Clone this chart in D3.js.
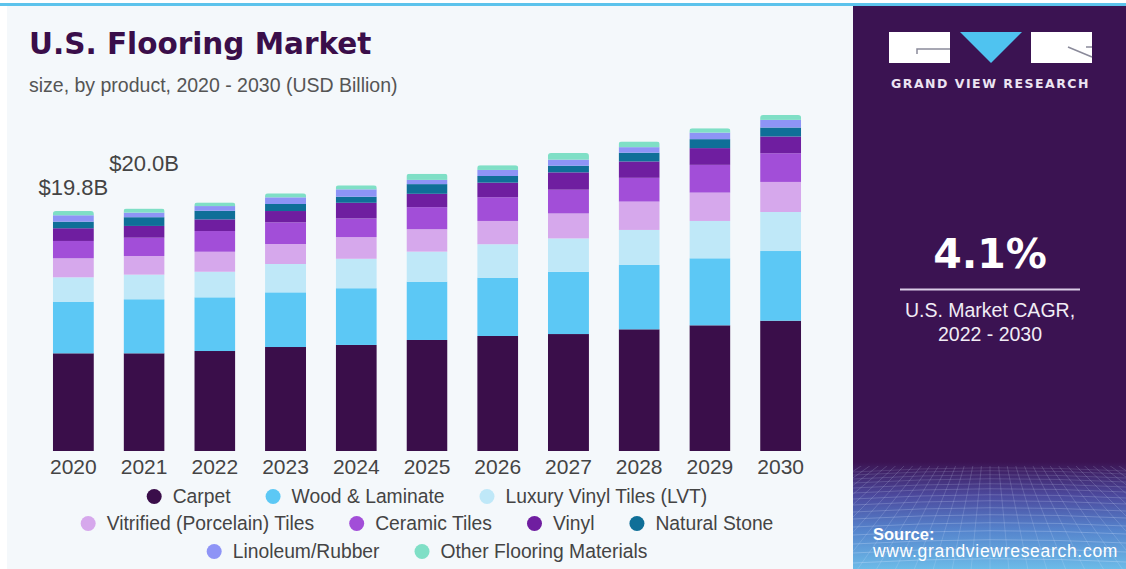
<!DOCTYPE html>
<html>
<head>
<meta charset="utf-8">
<script src="https://cdn.jsdelivr.net/npm/d3@7/dist/d3.min.js"></script>
<style>
  html, body { margin: 0; padding: 0; background: #ffffff; }
  svg { display: block; }
</style>
</head>
<body>
<svg id="chart" width="1126" height="569"></svg>
<script>
// U.S. flooring market size by product, USD billion
const years = ["2020","2021","2022","2023","2024","2025","2026","2027","2028","2029","2030"];
const products = ["Carpet","Wood & Laminate","Luxury Vinyl Tiles (LVT)","Vitrified (Porcelain) Tiles",
                  "Ceramic Tiles","Vinyl","Natural Stone","Linoleum/Rubber","Other Flooring Materials"];
const carpet       = [8.06, 8.06, 8.25, 8.58, 8.75, 9.16, 9.49, 9.65, 10.04, 10.37, 10.75];
const woodLaminate = [4.26, 4.46, 4.43, 4.51, 4.68, 4.81, 4.81, 5.14, 5.31, 5.53, 5.75];
const lvt          = [2.01, 2.03, 2.11, 2.34, 2.43, 2.48, 2.76, 2.75, 2.89, 3.08, 3.22];
const vitrified    = [1.57, 1.54, 1.65, 1.65, 1.79, 1.85, 1.92, 2.06, 2.34, 2.34, 2.48];
const ceramic      = [1.43, 1.51, 1.71, 1.79, 1.54, 1.82, 1.96, 1.96, 1.96, 2.29, 2.37];
const vinyl        = [1.05, 0.97, 0.96, 0.93, 1.29, 1.10, 1.20, 1.43, 1.35, 1.38, 1.38];
const naturalStone = [0.54, 0.72, 0.71, 0.58, 0.50, 0.80, 0.55, 0.55, 0.72, 0.74, 0.74];
const linoleum     = [0.53, 0.38, 0.39, 0.55, 0.61, 0.35, 0.50, 0.50, 0.46, 0.54, 0.63];
const other        = [0.35, 0.33, 0.30, 0.33, 0.33, 0.50, 0.39, 0.55, 0.47, 0.36, 0.41];
const seriesValues = [carpet, woodLaminate, lvt, vitrified, ceramic, vinyl, naturalStone, linoleum, other];
const colors = ["#3a0e4a","#5cc8f5","#bfe8f8","#d6a8ec","#a24ed8","#6f1ea0","#0f6f98","#8e94f6","#7fdfc6"];
// totals called out above the first two bars
const labelYears = ["2020","2021"];
const labelTexts = ["$19.8B","$20.0B"];

const rows = years.map((yr, i) => {
  const r = { year: yr };
  products.forEach((p, k) => { r[p] = seriesValues[k][i]; });
  return r;
});

const svg = d3.select("#chart");
const W = 1126, H = 569;

// ---- backgrounds ----
const defs = svg.append("defs");
const grad = defs.append("linearGradient").attr("id", "panelGrad")
  .attr("x1", 0).attr("y1", 0).attr("x2", 0).attr("y2", 1);
grad.append("stop").attr("offset", "0%").attr("stop-color", "#3b1352");
grad.append("stop").attr("offset", "81%").attr("stop-color", "#3b1352");
grad.append("stop").attr("offset", "87%").attr("stop-color", "#4c4a9e");
grad.append("stop").attr("offset", "93%").attr("stop-color", "#5583cc");
grad.append("stop").attr("offset", "100%").attr("stop-color", "#6cbbe8");

svg.append("rect").attr("x", 0).attr("y", 0).attr("width", W).attr("height", H).attr("fill", "#ffffff");
svg.append("rect").attr("x", 7).attr("y", 6).attr("width", 846).attr("height", H - 6).attr("fill", "#f4f8fb");
svg.append("rect").attr("x", 853).attr("y", 6).attr("width", W - 853).attr("height", H - 6).attr("fill", "url(#panelGrad)");
svg.append("rect").attr("x", 0).attr("y", 3).attr("width", W).attr("height", 3).attr("fill", "#5cc3ec");

// perspective mesh at the bottom of the side panel
defs.append("clipPath").attr("id", "gridClip")
  .append("rect").attr("x", 853).attr("y", 466).attr("width", W - 853).attr("height", H - 466);
const grid = svg.append("g").attr("clip-path", "url(#gridClip)")
  .attr("stroke", "#dce9ff").attr("stroke-width", 0.8).attr("fill", "none");
const hLines = [469, 472, 476, 480, 485, 490, 496, 502, 509, 516, 524, 532, 541, 550, 560];
hLines.forEach((yy, i) => {
  grid.append("path")
    .attr("d", `M853,${yy + 3} Q990,${yy - 5} 1126,${yy + 2}`)
    .attr("opacity", 0.16 + i * 0.015);
});
for (let k = -30; k <= 30; k++) {
  const vx = 990, vy = 380;
  const bx = 990 + k * 22;
  grid.append("line").attr("x1", vx).attr("y1", vy).attr("x2", bx).attr("y2", 600)
    .attr("opacity", 0.22);
}

// ---- title ----
svg.append("text").attr("x", 29).attr("y", 54)
  .attr("font-family", "DejaVu Sans").attr("font-weight", "bold").attr("font-size", 29.5)
  .attr("fill", "#3a0e4a").text("U.S. Flooring Market");
svg.append("text").attr("x", 29).attr("y", 92)
  .attr("font-family", "Liberation Sans, Arial").attr("font-size", 19.5)
  .attr("fill", "#555555").text("size, by product, 2020 - 2030 (USD Billion)");

// ---- bars ----
const x = d3.scaleBand().domain(years).range([38, 816]).paddingInner(0.42).paddingOuter(0.21);
const y = d3.scaleLinear().domain([0, 28]).range([451, 451 - 28 * 12.12]);

const stack = d3.stack().keys(products);
const stacked = stack(rows);

defs.append("clipPath").attr("id", "barsClip").selectAll("rect")
  .data(years).join("rect")
  .attr("x", d => x(d)).attr("width", x.bandwidth())
  .attr("y", (d, i) => y(d3.sum(seriesValues, s => s[i])))
  .attr("height", (d, i) => y(0) - y(d3.sum(seriesValues, s => s[i])) + 4)
  .attr("rx", 3);

const barsG = svg.append("g").attr("clip-path", "url(#barsClip)");
barsG.selectAll("g.layer").data(stacked).join("g")
  .attr("class", "layer")
  .attr("fill", (d, i) => colors[i])
  .selectAll("rect").data(d => d).join("rect")
  .attr("x", d => x(d.data.year))
  .attr("width", x.bandwidth())
  .attr("y", d => y(d[1]))
  .attr("height", d => y(d[0]) - y(d[1]));

// x axis labels
const xAxis = d3.axisBottom(x).tickSize(0).tickPadding(0);
const axG = svg.append("g").attr("transform", `translate(0,${y(0)})`).call(xAxis);
axG.select(".domain").remove();
axG.selectAll("text")
  .attr("dy", null).attr("y", 23)
  .attr("font-family", "Liberation Sans, Arial").attr("font-size", 21)
  .attr("fill", "#444444");

// total labels above first two bars (second one raised to avoid overlap)
const labelLift = [16, 38];
labelYears.forEach((yr, j) => {
  const i = years.indexOf(yr);
  const total = d3.sum(seriesValues, s => s[i]);
  svg.append("text")
    .attr("x", x(yr) + x.bandwidth() / 2)
    .attr("y", y(total) - labelLift[j])
    .attr("text-anchor", "middle")
    .attr("font-family", "Liberation Sans, Arial").attr("font-size", 22)
    .attr("fill", "#444444").text(labelTexts[j]);
});

// ---- legend ----
const legendRows = [[0, 1, 2], [3, 4, 5, 6], [7, 8]];
const legendBase = [503, 530, 558];
const legendCenter = 427;
const legendFont = 19.3;
const itemGap = 35;
legendRows.forEach((row, r) => {
  const g = svg.append("g");
  let cx = 0;
  row.forEach(k => {
    const it = g.append("g");
    it.append("circle").attr("cx", 7.5).attr("cy", -6.5).attr("r", 7.5).attr("fill", colors[k]);
    const t = it.append("text").attr("x", 26).attr("y", 0)
      .attr("font-family", "Liberation Sans, Arial").attr("font-size", legendFont)
      .attr("fill", "#444444").text(products[k]);
    const w = 26 + t.node().getComputedTextLength();
    it.attr("transform", `translate(${cx},0)`);
    cx += w + itemGap;
  });
  const total = cx - itemGap;
  g.attr("transform", `translate(${legendCenter - total / 2},${legendBase[r]})`);
});

// ---- side panel: logo ----
const logo = svg.append("g");
logo.append("rect").attr("x", 889).attr("y", 32).attr("width", 61).attr("height", 31).attr("fill", "#ffffff");
logo.append("path").attr("d", "M917,54 L917,49 L950,49").attr("stroke", "#8a8a9a").attr("stroke-width", 1.5).attr("fill", "none");
logo.append("path").attr("d", "M960,32 L1022,32 L991,63 Z").attr("fill", "#4fc3f0");
logo.append("rect").attr("x", 1031).attr("y", 32).attr("width", 61).attr("height", 31).attr("fill", "#ffffff");
logo.append("path").attr("d", "M1068,47 L1092,57 M1086,47 L1092,47").attr("stroke", "#8a8a9a").attr("stroke-width", 1.5).attr("fill", "none");
svg.append("text").attr("x", 990.5).attr("y", 88).attr("text-anchor", "middle")
  .attr("font-family", "DejaVu Sans").attr("font-weight", "bold").attr("font-size", 12.5)
  .attr("letter-spacing", 1.5).attr("fill", "#ece4f2").text("GRAND VIEW RESEARCH");

// ---- side panel: CAGR ----
svg.append("text").attr("x", 990).attr("y", 268).attr("text-anchor", "middle")
  .attr("font-family", "DejaVu Sans").attr("font-weight", "bold").attr("font-size", 41)
  .attr("fill", "#ffffff").text("4.1%");
svg.append("line").attr("x1", 900).attr("x2", 1080).attr("y1", 289.5).attr("y2", 289.5)
  .attr("stroke", "#d9cce6").attr("stroke-width", 2);
svg.append("text").attr("x", 990).attr("y", 317).attr("text-anchor", "middle")
  .attr("font-family", "Liberation Sans, Arial").attr("font-size", 19.5)
  .attr("fill", "#f1ecf5").text("U.S. Market CAGR,");
svg.append("text").attr("x", 990).attr("y", 341).attr("text-anchor", "middle")
  .attr("font-family", "Liberation Sans, Arial").attr("font-size", 19.5)
  .attr("fill", "#f1ecf5").text("2022 - 2030");

// ---- side panel: source ----
svg.append("text").attr("x", 873).attr("y", 540)
  .attr("font-family", "Liberation Sans, Arial").attr("font-weight", "bold").attr("font-size", 16.5)
  .attr("fill", "#ffffff").text("Source:");
svg.append("text").attr("x", 873).attr("y", 557)
  .attr("font-family", "Liberation Sans, Arial").attr("font-size", 17.5)
  .attr("letter-spacing", 0.7)
  .attr("fill", "#ffffff").text("www.grandviewresearch.com");
</script>
</body>
</html>
